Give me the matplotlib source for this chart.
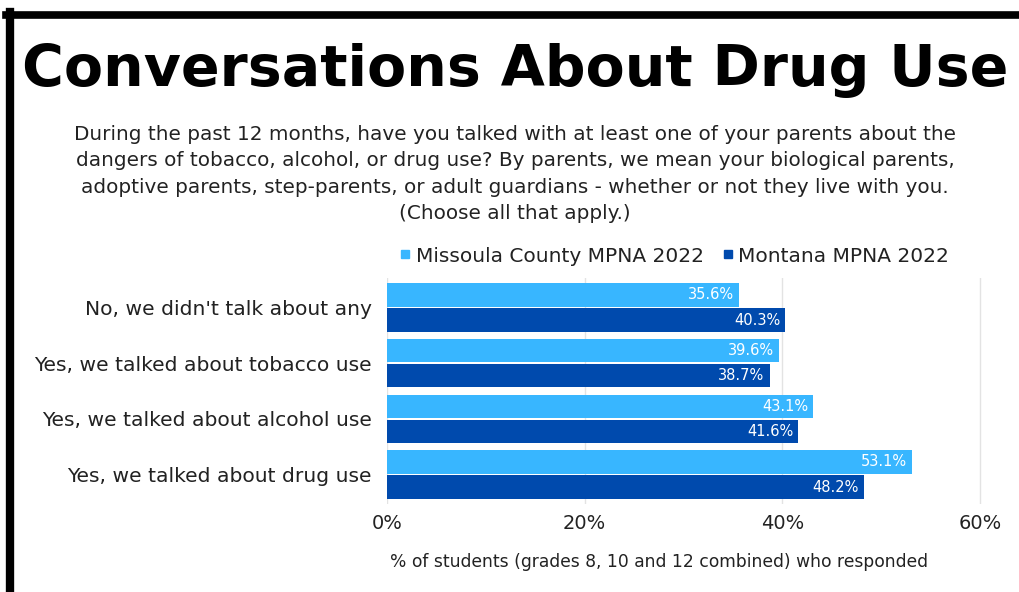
import matplotlib.pyplot as plt
from matplotlib.lines import Line2D
import numpy as np

plt.rcParams['font.family'] = ['DejaVu Sans']

# data
categories = ["No, we didn't talk about any",
              "Yes, we talked about tobacco use",
              "Yes, we talked about alcohol use",
              "Yes, we talked about drug use"]
missoula = [35.6, 39.6, 43.1, 53.1]
montana = [40.3, 38.7, 41.6, 48.2]
series_names = ["Missoula County MPNA 2022", "Montana MPNA 2022"]
colors = ["#38B6FF", "#004AAD"]
xticks = [0, 20, 40, 60]

W, H = 1019, 592
fig = plt.figure(figsize=(W / 100, H / 100), dpi=100)

# black frame lines (top and left)
fig.add_artist(Line2D([6 / W, 1], [1 - 14.5 / H, 1 - 14.5 / H], color='black', lw=5.5))
fig.add_artist(Line2D([10 / W, 10 / W], [0, 1 - 12 / H], color='black', lw=6))

fig.text(515 / W, 1 - 70 / H, "Conversations About Drug Use", ha='center', va='center',
         fontsize=41, fontweight='heavy', color='black')

subtitle = ("During the past 12 months, have you talked with at least one of your parents about the\n"
            "dangers of tobacco, alcohol, or drug use? By parents, we mean your biological parents,\n"
            "adoptive parents, step-parents, or adult guardians - whether or not they live with you.\n"
            "(Choose all that apply.)")
fig.text(515 / W, 1 - 174 / H, subtitle, ha='center', va='center', fontsize=14.4,
         color='#222222', linespacing=1.47)

ax = fig.add_axes([387 / W, 1 - 504 / H, (1000 - 387) / W, (504 - 278) / H])
y = np.arange(len(categories))
h = 0.42
off = 0.225
ax.barh(y - off, missoula, height=h, color=colors[0], label=series_names[0])
ax.barh(y + off, montana, height=h, color=colors[1], label=series_names[1])
for yi, v in zip(y, missoula):
    ax.text(v - 0.5, yi - off, f"{v}%", ha='right', va='center', color='white', fontsize=10.5)
for yi, v in zip(y, montana):
    ax.text(v - 0.5, yi + off, f"{v}%", ha='right', va='center', color='white', fontsize=10.5)

ax.set_ylim(len(categories) - 0.5 + 0.03, -0.5 - 0.03)
ax.set_xlim(0, 62)
ax.set_yticks(y)
ax.set_yticklabels(categories, fontsize=14.6, color='#222222')
ax.set_xticks(xticks)
ax.set_xticklabels([f"{t}%" for t in xticks], fontsize=14, color='#222222')
ax.tick_params(length=0, pad=7)
ax.tick_params(axis='y', pad=11)
ax.grid(axis='x', color='#e3e3e3', lw=1)
ax.set_axisbelow(True)
for s in ax.spines.values():
    s.set_visible(False)
ax.set_xlabel("% of students (grades 8, 10 and 12 combined) who responded",
              fontsize=12.3, color='#222222')
ax.xaxis.set_label_coords(0.444, -0.215)

handles = [plt.Line2D([], [], marker='s', ls='', color=c, markersize=6) for c in colors]
fig.legend(handles, series_names, loc='center', bbox_to_anchor=(673 / W, 1 - 256 / H),
           ncol=2, frameon=False, fontsize=14.5, handletextpad=0.1, columnspacing=0.8,
           handlelength=0.8, labelcolor='#222222')

fig.savefig('out.png', dpi=100, facecolor='white')
